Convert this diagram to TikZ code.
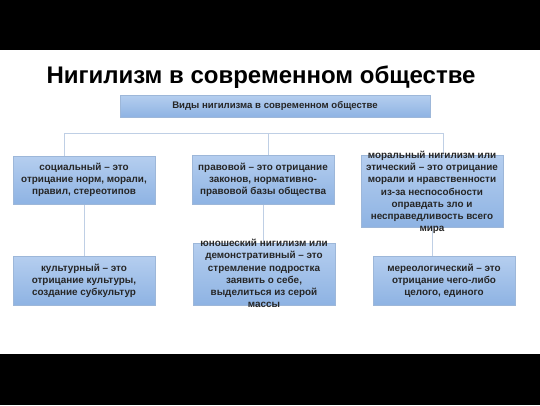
\documentclass[tikz,border=0pt]{standalone}
\usepackage{fontspec}
\setmainfont{Liberation Sans}
\usetikzlibrary{backgrounds}
\definecolor{boxtop}{HTML}{B5CEEF}
\definecolor{boxbot}{HTML}{8EB3E3}
\definecolor{boxline}{HTML}{9DB7D9}
\definecolor{conn}{HTML}{BFCFE5}
\tikzset{
  kind/.style={draw=boxline, line width=0.8pt, top color=boxtop, bottom color=boxbot,
    minimum width=142pt, inner sep=0pt, align=center,
    font=\bfseries\fontsize{9.9}{12}\selectfont, text=black!85},
  ovtext/.style={align=center, font=\bfseries\fontsize{9.9}{12.2}\selectfont, text=black!85},
  link/.style={draw=conn, line width=1pt}
}
\begin{document}
\begin{tikzpicture}[x=1pt,y=-1pt]
\useasboundingbox (0,0) rectangle (540,405);
\node[font=\bfseries\fontsize{24}{28}\selectfont] (title) at (261,77) {Нигилизм в современном обществе};
\node[kind, minimum width=310pt, minimum height=22pt, font=\bfseries\fontsize{9.6}{11}\selectfont] (head) at (275,106) {Виды нигилизма в современном обществе};
\node[kind, minimum height=48pt] (b1) at (84,180) {социальный – это\\отрицание норм, морали,\\правил, стереотипов};
\node[kind, minimum height=49pt] (b2) at (263,179.5) {правовой – это отрицание\\законов, нормативно-\\правовой базы общества};
\node[kind, minimum height=72pt] (b3) at (432,191) {};
\node[ovtext] (t3) at (432,192.5) {моральный нигилизм или\\этический – это отрицание\\морали и нравственности\\из-за неспособности\\оправдать зло и\\несправедливость всего\\мира};
\node[kind, minimum height=49pt] (b4) at (84,280.5) {культурный – это\\отрицание культуры,\\создание субкультур};
\node[kind, minimum height=62pt] (b5) at (264,274) {};
\node[ovtext] (t5) at (264,273.5) {юношеский нигилизм или\\демонстративный – это\\стремление подростка\\заявить о себе,\\выделиться из серой\\массы};
\node[kind, minimum height=49pt] (b6) at (444,280.5) {мереологический – это\\отрицание чего-либо\\целого, единого};
\coordinate (h1) at (64,133);
\coordinate (h2) at (268,133);
\coordinate (h3) at (443,133);
\begin{scope}[on background layer]
\fill[white] (0,0) rectangle (540,405);
\fill[black] (0,0) rectangle (540,50);
\fill[black] (0,354) rectangle (540,405);
\draw[link] (h1) -- (h3);
\draw[link] (h1) -- (h1 |- b1.north);
\draw[link] (h2) -- (h2 |- b2.north);
\draw[link] (h3) -- (h3 |- b3.north);
\draw[link] (b1.south) -- (b4.north);
\draw[link] (b2.south) -- (b2.south |- b5.north);
\draw[link] (b3.south) -- (b3.south |- b6.north);
\end{scope}
\end{tikzpicture}
\end{document}
